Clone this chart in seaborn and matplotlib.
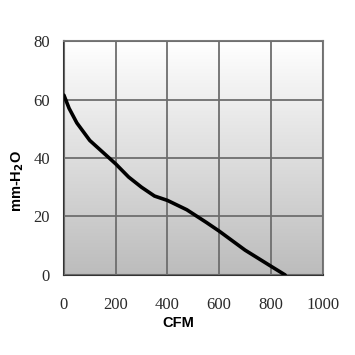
import numpy as np
import pandas as pd
import matplotlib
matplotlib.use("Agg")
import matplotlib.pyplot as plt
import seaborn as sns
from matplotlib.colors import LinearSegmentedColormap

cfm = [0, 20, 50, 100, 150, 200, 250, 300, 350, 400, 475, 550, 600, 700, 800, 855]
pressure = [61.5, 57, 52, 46, 42, 38, 33.5, 30, 27, 25.5, 22.3, 18, 15, 8.5, 3, 0]
x_ticks = [0, 200, 400, 600, 800, 1000]
y_ticks = [0, 20, 40, 60, 80]

sns.set_theme(style="white")
df = pd.DataFrame({"CFM": cfm, "P": pressure})

fig = plt.figure(figsize=(3.55, 3.55), dpi=100)
ax = fig.add_axes([0.180, 0.2254, 0.729, 0.659])

cmap = LinearSegmentedColormap.from_list("g", ["#bcbcbc", "#ffffff"])
grad = np.linspace(0, 1, 256).reshape(-1, 1)
ax.imshow(grad, extent=[0, 1000, 0, 80], origin="lower", aspect="auto",
          cmap=cmap, zorder=0, interpolation="bilinear")

sns.lineplot(data=df, x="CFM", y="P", ax=ax, color="black", linewidth=2.6,
             zorder=3, sort=False)

ax.set_xlim(0, 1000)
ax.set_ylim(0, 80)
ax.set_xticks(x_ticks)
ax.set_yticks(y_ticks)
ax.grid(True, color="#6e6e6e", linewidth=1.3, zorder=1)
ax.set_axisbelow(False)
for l in ax.get_xgridlines() + ax.get_ygridlines():
    l.set_zorder(1)

serif = ["Liberation Serif", "DejaVu Serif"]
ax.set_xticklabels([str(v) for v in x_ticks], family=serif, fontsize=12, color="#2a2a2a")
ax.set_yticklabels([str(v) for v in y_ticks], family=serif, fontsize=12, color="#2a2a2a")
ax.tick_params(axis="x", length=0, pad=16)
ax.tick_params(axis="y", length=0, pad=10)

for s in ["top", "right"]:
    ax.spines[s].set_color("#7a7a7a")
    ax.spines[s].set_linewidth(1.5)
for s in ["left", "bottom"]:
    ax.spines[s].set_color("#333333")
    ax.spines[s].set_linewidth(1.5)

sans = ["Liberation Sans", "DejaVu Sans"]
ax.set_xlabel("CFM", family=sans, fontsize=10.5, fontweight="bold", color="black")
ax.set_ylabel(r"mm-H$_\mathbf{2}$O", family=sans, fontsize=10.5, fontweight="bold", color="black")
ax.xaxis.set_label_coords(0.443, -0.207)
ax.xaxis.label.set_va("center")
ax.yaxis.set_label_coords(-0.18, 0.40)
ax.yaxis.label.set_va("center")

fig.savefig("out.png", dpi=100)
